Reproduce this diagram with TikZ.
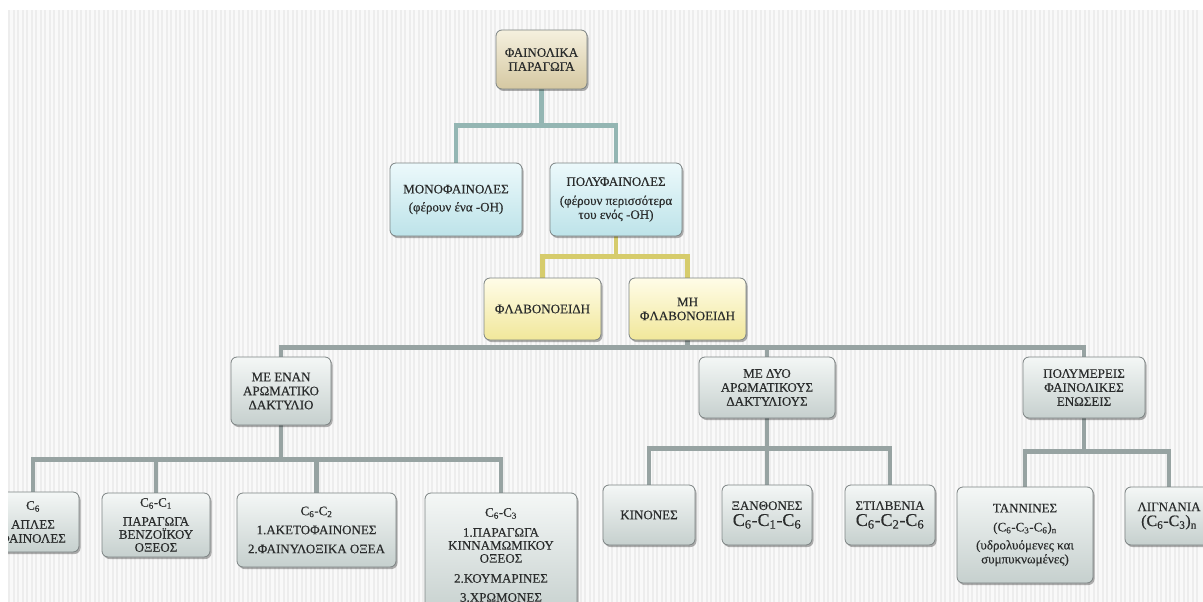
\documentclass[tikz,border=0pt]{standalone}
\usepackage{fontspec}
\setmainfont{Liberation Serif}[FakeBold=0.35]
\usetikzlibrary{shadows}
\pgfdeclarelayer{bg}
\pgfdeclarelayer{lines}
\pgfsetlayers{bg,lines,main}
\definecolor{bordc}{HTML}{7C8383}
\definecolor{txt}{HTML}{2A2C2C}
\definecolor{gtop}{HTML}{F4F7F6}
\definecolor{gbot}{HTML}{C6D0CE}
\definecolor{ctop}{HTML}{ECF9FB}
\definecolor{cbot}{HTML}{BDE3E9}
\definecolor{ytop}{HTML}{FFFCE8}
\definecolor{ybot}{HTML}{F1E79A}
\definecolor{btop}{HTML}{F5F0DE}
\definecolor{bbot}{HTML}{D5C8A2}
\definecolor{tline}{HTML}{94B6B3}
\definecolor{yline}{HTML}{D6CC6C}
\definecolor{gline}{HTML}{97A3A2}
\definecolor{stripebase}{HTML}{F9F9F9}
\definecolor{stripec}{HTML}{EDEDED}
\tikzset{
  box/.style={draw=bordc, line width=0.8pt, rounded corners=6pt, align=center,
    inner sep=2pt, font=\fontsize{13}{14}\selectfont, text=txt,
    drop shadow={shadow xshift=1.5pt, shadow yshift=-2pt, opacity=0.3, fill=black}},
  gbox/.style={box, top color=gtop, bottom color=gbot},
  cbox/.style={box, top color=ctop, bottom color=cbot},
  ybox/.style={box, top color=ytop, bottom color=ybot},
  bbox/.style={box, top color=btop, bottom color=bbot},
  conn/.style={line width=4.2pt, line join=miter},
  tconn/.style={conn, draw=tline, line width=4.6pt},
  yconn/.style={conn, draw=yline},
  gconn/.style={conn, draw=gline},
}
\newcommand{\bigformula}[1]{{\fontsize{18}{20}\selectfont #1}}
\newcommand{\midformula}[1]{{\fontsize{16}{18}\selectfont #1}}
\newcommand{\sbs}[1]{\textsubscript{#1}}
\begin{document}
\begin{tikzpicture}[x=1pt, y=-1pt]
\useasboundingbox (0,0) rectangle (1203,602);
\begin{pgfonlayer}{bg}
  \fill[white] (0,0) rectangle (1203,602);
  \fill[stripebase] (8,10) rectangle (1203,602);
  \foreach \x in {8,12.5,...,1200} \fill[stripec] (\x,10) rectangle ++(2,592);
\end{pgfonlayer}

% level 0
\node[bbox, minimum width=91pt, minimum height=59pt] (top) at (541.5,59.5) {ΦΑΙΝΟΛΙΚΑ\\ΠΑΡΑΓΩΓΑ};
% level 1
\node[cbox, minimum width=132pt, minimum height=73pt] (mono) at (456,199.5) {ΜΟΝΟΦΑΙΝΟΛΕΣ\\[4pt](φέρουν ένα -ΟΗ)};
\node[cbox, minimum width=132pt, minimum height=73pt] (poly) at (616,199.5) {ΠΟΛΥΦΑΙΝΟΛΕΣ\\[5pt](φέρουν περισσότερα\\του ενός -ΟΗ)};
% level 2
\node[ybox, minimum width=117pt, minimum height=62pt] (flav) at (542.5,309) {ΦΛΑΒΟΝΟΕΙΔΗ};
\node[ybox, minimum width=117pt, minimum height=62pt] (mh) at (687.5,309) {ΜΗ\\ΦΛΑΒΟΝΟΕΙΔΗ};
% level 3
\node[gbox, minimum width=100pt, minimum height=68pt] (enan) at (281,391) {ΜΕ ΕΝΑΝ\\ΑΡΩΜΑΤΙΚΟ\\ΔΑΚΤΥΛΙΟ};
\node[gbox, minimum width=136pt, minimum height=61pt] (medyo) at (767,387.5) {ΜΕ ΔΥΟ\\ΑΡΩΜΑΤΙΚΟΥΣ\\ΔΑΚΤΥΛΙΟΥΣ};
\node[gbox, minimum width=122pt, minimum height=61pt] (polym) at (1084,387.5) {ΠΟΛΥΜΕΡΕΙΣ\\ΦΑΙΝΟΛΙΚΕΣ\\ΕΝΩΣΕΙΣ};
% level 4
\node[gbox, minimum width=92pt, minimum height=60pt] (c6) at (33,522) {C\sbs{6}\\[5pt]ΑΠΛΕΣ\\ΦΑΙΝΟΛΕΣ};
\node[gbox, minimum width=108pt, minimum height=64pt, font=\fontsize{13}{13}\selectfont] (c6c1) at (156,525) {C\sbs{6}-C\sbs{1}\\[6pt]ΠΑΡΑΓΩΓΑ\\ΒΕΝΖΟΪΚΟΥ\\ΟΞΕΟΣ};
\node[gbox, minimum width=159pt, minimum height=74pt] (c6c2) at (316.5,530) {C\sbs{6}-C\sbs{2}\\[5pt]1.ΑΚΕΤΟΦΑΙΝΟΝΕΣ\\[5pt]2.ΦΑΙΝΥΛΟΞΙΚΑ ΟΞΕΑ};
\node[gbox, minimum width=152pt, minimum height=124pt, font=\fontsize{13}{13}\selectfont] (c6c3) at (501,555) {C\sbs{6}-C\sbs{3}\\[7pt]1.ΠΑΡΑΓΩΓΑ\\ΚΙΝΝΑΜΩΜΙΚΟΥ\\ΟΞΕΟΣ\\[7pt]2.ΚΟΥΜΑΡΙΝΕΣ\\[6pt]3.ΧΡΩΜΟΝΕΣ};
\node[gbox, minimum width=92pt, minimum height=60pt] (kin) at (649,515) {ΚΙΝΟΝΕΣ};
\node[gbox, minimum width=90pt, minimum height=60pt] (xan) at (767,515) {ΞΑΝΘΟΝΕΣ\\[2pt]\bigformula{C\sbs{6}-C\sbs{1}-C\sbs{6}}};
\node[gbox, minimum width=90pt, minimum height=60pt] (stil) at (890,515) {ΣΤΙΛΒΕΝΙΑ\\[2pt]\bigformula{C\sbs{6}-C\sbs{2}-C\sbs{6}}};
\node[gbox, minimum width=136pt, minimum height=96pt] (tann) at (1025,535) {ΤΑΝΝΙΝΕΣ\\[5pt](C\sbs{6}-C\sbs{3}-C\sbs{6})\sbs{n}\\[4pt](υδρολυόμενες και\\συμπυκνωμένες)};
\node[gbox, minimum width=88pt, minimum height=58pt] (lign) at (1169,516) {ΛΙΓΝΑΝΙΑ\\[1pt]\midformula{(C\sbs{6}-C\sbs{3})\sbs{n}}};

% white left margin cuts the first box
\fill[white] (0,0) rectangle (8,602);

\begin{pgfonlayer}{lines}
  \draw[tconn] (top.south) -- ++(0,36) -| (mono.north);
  \draw[tconn] (top.south) -- ++(0,36) -| (poly.north);
  \draw[yconn] (poly.south) -- ++(0,20) -| (flav.north);
  \draw[yconn] (poly.south) -- ++(0,20) -| (mh.north);
  \draw[gconn] (mh.south) -- ++(0,7) -| (enan.north);
  \draw[gconn] (mh.south) -- ++(0,7) -| (medyo.north);
  \draw[gconn] (mh.south) -- ++(0,7) -| (polym.north);
  \draw[gconn] (enan.south) -- ++(0,34) -| (c6.north);
  \draw[gconn] (enan.south) -- ++(0,34) -| (c6c1.north);
  \draw[gconn] (enan.south) -- ++(0,34) -| (c6c2.north);
  \draw[gconn] (enan.south) -- ++(0,34) -| (c6c3.north);
  \draw[gconn] (medyo.south) -- ++(0,30) -| (kin.north);
  \draw[gconn] (medyo.south) -- ++(0,30) -| (xan.north);
  \draw[gconn] (medyo.south) -- ++(0,30) -| (stil.north);
  \draw[gconn] (polym.south) -- ++(0,33) -| (tann.north);
  \draw[gconn] (polym.south) -- ++(0,33) -| (lign.north);
\end{pgfonlayer}
\end{tikzpicture}
\end{document}
